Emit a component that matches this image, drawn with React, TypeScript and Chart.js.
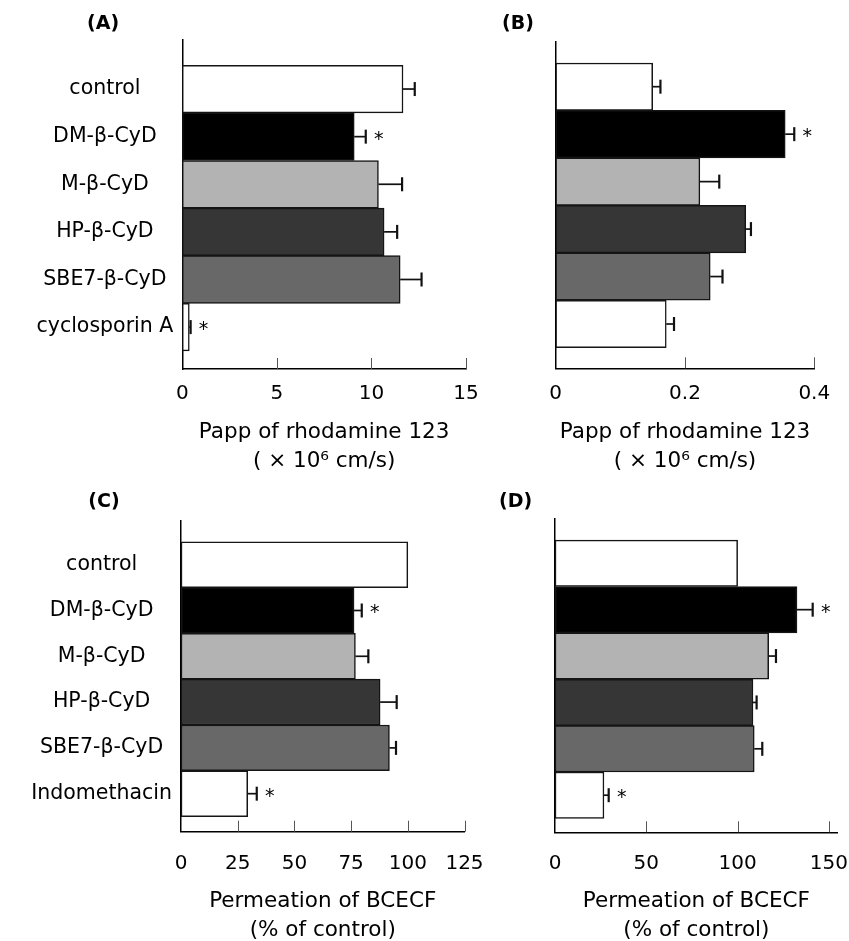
import React, { useEffect, useRef } from 'react';
import { Chart, registerables } from 'chart.js';

Chart.register(...registerables);

// ---------- data ----------
const categoriesAB = ['control', 'DM-β-CyD', 'M-β-CyD', 'HP-β-CyD', 'SBE7-β-CyD', 'cyclosporin A'];
const categoriesCD = ['control', 'DM-β-CyD', 'M-β-CyD', 'HP-β-CyD', 'SBE7-β-CyD', 'Indomethacin'];

const valuesA = [11.67, 9.09, 10.37, 10.67, 11.52, 0.37];
const errorsA = [0.62, 0.61, 1.25, 0.69, 1.13, 0.07];
const signifA = [false, true, false, false, false, true];

const valuesB = [0.15, 0.355, 0.223, 0.294, 0.239, 0.171];
const errorsB = [0.012, 0.014, 0.03, 0.008, 0.019, 0.012];
const signifB = [false, true, false, false, false, false];

const valuesC = [100, 76.3, 76.9, 87.8, 91.9, 29.4];
const errorsC = [0, 3.4, 5.7, 7.3, 2.9, 4.0];
const signifC = [false, true, false, false, false, true];

const valuesD = [100, 132.5, 117, 108.4, 109.1, 26.8];
const errorsD = [0, 8.6, 4.0, 2.0, 4.4, 2.6];
const signifD = [false, true, false, false, false, true];

const axisMaxA = 15;
const axisMaxB = 0.4;
const axisMaxC = 125;
const axisMaxD = 154.8;
const tickStepA = 5;
const tickStepB = 0.2;
const tickStepC = 25;
const tickStepD = 50;

const titleAB = ['Papp of rhodamine 123', '( × 10⁶ cm/s)'];
const titleCD = ['Permeation of BCECF', '(% of control)'];

// ---------- styles ----------
const W = 849;
const H = 941;
const FONT = "'DejaVu Sans', 'Liberation Sans', Arial, sans-serif";
const TEXT = '#000';
const barColors = ['#ffffff', '#000000', '#b3b3b3', '#363636', '#686868', '#ffffff'];

type Panel = {
  letter: string;
  letterX: number;
  letterY: number;
  labels: string[];
  showLabels: boolean;
  values: number[];
  errors: number[];
  signif: boolean[];
  xMax: number;
  step: number;
  title: string[];
  area: { left: number; right: number; top: number; bottom: number };
  yMin: number;
  yMax: number;
  tickPad: number;
  labelPad: number;
  line1: number;
};

const panels: Panel[] = [
  {
    letter: '(A)', letterX: 87, letterY: 24,
    labels: categoriesAB, showLabels: true,
    values: valuesA, errors: errorsA, signif: signifA,
    xMax: axisMaxA, step: tickStepA, title: titleAB,
    area: { left: 182.3, right: 466, top: 40, bottom: 369 },
    yMin: -1.03, yMax: 5.88, tickPad: 12.5, labelPad: 9, line1: 432,
  },
  {
    letter: '(B)', letterX: 502, letterY: 24,
    labels: categoriesAB, showLabels: false,
    values: valuesB, errors: errorsB, signif: signifB,
    xMax: axisMaxB, step: tickStepB, title: titleAB,
    area: { left: 555.7, right: 814.3, top: 41.7, bottom: 368.3 },
    yMin: -0.948, yMax: 5.933, tickPad: 13, labelPad: 10, line1: 432,
  },
  {
    letter: '(C)', letterX: 88.3, letterY: 502.5,
    labels: categoriesCD, showLabels: true,
    values: valuesC, errors: errorsC, signif: signifC,
    xMax: axisMaxC, step: tickStepC, title: titleCD,
    area: { left: 181, right: 464.5, top: 521, bottom: 831.7 },
    yMin: -0.954, yMax: 5.83, tickPad: 19.8, labelPad: 9, line1: 901.5,
  },
  {
    letter: '(D)', letterX: 499, letterY: 502.5,
    labels: categoriesCD, showLabels: false,
    values: valuesD, errors: errorsD, signif: signifD,
    xMax: axisMaxD, step: tickStepD, title: titleCD,
    area: { left: 555, right: 837.7, top: 519, bottom: 832.3 },
    yMin: -0.955, yMax: 5.8, tickPad: 19, labelPad: 10, line1: 901.5,
  },
];

function makeDecor(p: Panel) {
  return {
    id: 'panelDecor' + p.letter,
    afterDraw(chart: any) {
      const ctx = chart.ctx as CanvasRenderingContext2D;
      const xs = chart.scales.x;
      const area = chart.chartArea;
      const meta = chart.getDatasetMeta(0);
      ctx.save();
      // inward tick marks on the x axis
      ctx.strokeStyle = '#555';
      ctx.lineWidth = 1;
      xs.ticks.forEach((t: any) => {
        if (t.value === 0) return;
        const px = Math.round(xs.getPixelForValue(t.value)) + 0.5;
        ctx.beginPath();
        ctx.moveTo(px, area.bottom);
        ctx.lineTo(px, area.bottom - 11);
        ctx.stroke();
      });
      // error bars and asterisks
      meta.data.forEach((bar: any, i: number) => {
        const v = p.values[i];
        const e = p.errors[i];
        const y = bar.y;
        const x0 = xs.getPixelForValue(v);
        const x1 = xs.getPixelForValue(v + e);
        if (e > 0) {
          ctx.strokeStyle = '#111';
          ctx.lineWidth = 1.7;
          ctx.beginPath();
          ctx.moveTo(x0, y);
          ctx.lineTo(x1, y);
          ctx.stroke();
          ctx.lineWidth = 2.2;
          ctx.beginPath();
          ctx.moveTo(x1, y - 7);
          ctx.lineTo(x1, y + 7);
          ctx.stroke();
        }
        if (p.signif[i]) {
          ctx.fillStyle = TEXT;
          ctx.font = `19px ${FONT}`;
          ctx.textAlign = 'center';
          ctx.textBaseline = 'alphabetic';
          ctx.fillText('*', x1 + 13, y + 0.52 * 19 - 2);
        }
      });
      // panel letter
      ctx.fillStyle = TEXT;
      ctx.font = `bold 19px ${FONT}`;
      ctx.textAlign = 'left';
      ctx.textBaseline = 'middle';
      ctx.fillText(p.letter, p.letterX, p.letterY);
      ctx.restore();
    },
  };
}

function PanelChart({ p }: { p: Panel }) {
  const ref = useRef<HTMLCanvasElement | null>(null);
  useEffect(() => {
    if (!ref.current) return;
    const L = 29;
    const wanted = p.line1 + L / 2 + L * (p.title.length - 1);
    const scaleBottom = Math.min(H, wanted);
    const titlePadBottom = scaleBottom - wanted; // <= 0
    const xHeight = scaleBottom - p.area.bottom;
    const chart = new Chart(ref.current, {
      type: 'bar',
      data: {
        datasets: [
          {
            data: p.values.map((v, i) => ({ x: v, y: i })),
            backgroundColor: barColors,
            borderColor: '#151515',
            borderWidth: 1.5,
            borderSkipped: false,
            barPercentage: 1,
            categoryPercentage: 1,
          } as any,
        ],
      },
      options: {
        indexAxis: 'y',
        responsive: false,
        animation: false,
        events: [],
        layout: {
          padding: {
            left: 0,
            top: p.area.top,
            right: W - p.area.right,
            bottom: H - scaleBottom,
          },
        },
        plugins: {
          legend: { display: false },
          tooltip: { enabled: false },
          title: { display: false },
        },
        scales: {
          y: {
            type: 'linear',
            reverse: true,
            min: p.yMin,
            max: p.yMax,
            offset: false,
            grid: { display: false, drawTicks: false },
            border: { display: true, color: '#000', width: 1.5 },
            afterBuildTicks: (s: any) => {
              s.ticks = p.labels.map((_, i) => ({ value: i }));
            },
            afterFit: (s: any) => {
              s.width = p.area.left;
              s.paddingTop = 0;
              s.paddingBottom = 0;
            },
            ticks: {
              autoSkip: false,
              crossAlign: 'center',
              padding: p.labelPad,
              color: TEXT,
              font: { family: FONT, size: 20.5 },
              callback: (_v: any, i: number) => (p.showLabels ? p.labels[i] : ''),
            },
          },
          x: {
            type: 'linear',
            min: 0,
            max: p.xMax,
            grid: { display: false, drawTicks: false },
            border: { display: true, color: '#000', width: 1.5 },
            afterFit: (s: any) => {
              s.height = xHeight;
              s.paddingLeft = 0;
              s.paddingRight = 0;
            },
            ticks: {
              stepSize: p.step,
              includeBounds: false,
              autoSkip: false,
              maxRotation: 0,
              padding: p.tickPad,
              color: TEXT,
              font: { family: FONT, size: 20 },
            },
            title: {
              display: true,
              text: p.title,
              color: TEXT,
              font: { family: FONT, size: 21.5, lineHeight: L / 21.5 },
              padding: { top: 0, bottom: titlePadBottom },
            },
          },
        },
      } as any,
      plugins: [makeDecor(p)],
    });
    return () => chart.destroy();
  }, [p]);
  return (
    <canvas
      ref={ref}
      width={W}
      height={H}
      style={{ position: 'absolute', left: 0, top: 0, width: W, height: H }}
    />
  );
}

export default function App() {
  return (
    <div
      style={{
        position: 'fixed',
        left: 0,
        top: 0,
        width: W,
        height: H,
        background: '#ffffff',
        overflow: 'hidden',
      }}
    >
      {panels.map((p) => (
        <PanelChart key={p.letter} p={p} />
      ))}
    </div>
  );
}
